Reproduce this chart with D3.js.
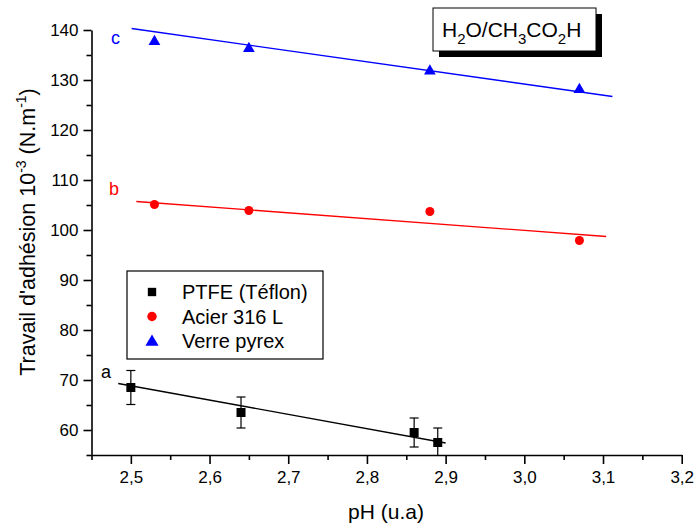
<!DOCTYPE html>
<html>
<head>
<meta charset="utf-8">
<script src="https://cdn.jsdelivr.net/npm/d3@7"></script>
<style>
  body { margin: 0; background: #fff; }
  svg { font-family: "Liberation Sans", Arial, sans-serif; }
</style>
</head>
<body>
<div id="chart"></div>
<script>
// data
const phPTFE = [2.50, 2.64, 2.86, 2.89]
const wPTFE = [68.5, 63.5, 59.5, 57.5]
const errPTFE = [3.4, 3.1, 2.9, 2.9]
const fitPTFEx = [2.484, 2.90]
const fitPTFEy = [69.3, 57.4]

const phAcier = [2.53, 2.65, 2.88, 3.07]
const wAcier = [105.1, 103.9, 103.7, 97.9]
const fitAcierx = [2.507, 3.104]
const fitAciery = [105.7, 98.7]

const phPyrex = [2.53, 2.65, 2.88, 3.07]
const wPyrex = [137.9, 136.5, 132.0, 128.3]
const fitPyrexx = [2.501, 3.112]
const fitPyrexy = [140.3, 126.7]

const xMajor = [2.5, 2.6, 2.7, 2.8, 2.9, 3.0, 3.1, 3.2]
const xMinor = [2.45, 2.55, 2.65, 2.75, 2.85, 2.95, 3.05, 3.15]
const yMajor = [60, 70, 80, 90, 100, 110, 120, 130, 140]
const yMinor = [55, 65, 75, 85, 95, 105, 115, 125, 135]

const legendNames = ['PTFE (Téflon)', 'Acier 316 L', 'Verre pyrex']
const legendColors = ['#000', '#ff0000', '#0000ff']
const legendShapes = [d3.symbolSquare, d3.symbolCircle, d3.symbolTriangle]

const width = 696, height = 524
const svg = d3.select('#chart').append('svg')
   .attr('width', width).attr('height', height)

const x = d3.scaleLinear().domain([2.45, 3.2]).range([91.5, 681.7])
const y = d3.scaleLinear().domain([55, 140]).range([455, 30])

const fmt = d => d.toFixed(1).replace('.', ',')

// axes
const gx = svg.append('g').attr('transform', `translate(0,${y(55)})`)
gx.call(d3.axisBottom(x).tickValues(xMajor).tickFormat(fmt).tickSize(9).tickSizeOuter(0).tickPadding(7))
gx.append('g').call(d3.axisBottom(x).tickValues(xMinor).tickFormat('').tickSize(5).tickSizeOuter(0))
   .select('.domain').remove()

const gy = svg.append('g').attr('transform', `translate(${x(2.45)},0)`)
gy.call(d3.axisLeft(y).tickValues(yMajor).tickSize(8).tickSizeOuter(0).tickPadding(5))
gy.append('g').call(d3.axisLeft(y).tickValues(yMinor).tickFormat('').tickSize(5).tickSizeOuter(0))
   .select('.domain').remove()

svg.selectAll('.domain, .tick line').attr('stroke', '#000').attr('stroke-width', 1.6)
svg.selectAll('.tick text').attr('font-size', 17).attr('fill', '#000')
   .attr('font-family', '"Liberation Sans", Arial, sans-serif')

// axis titles
svg.append('text')
   .attr('x', 386).attr('y', 519)
   .attr('text-anchor', 'middle').attr('font-size', 21)
   .text('pH (u.a)')

const yt = svg.append('text')
   .attr('transform', 'translate(35,232) rotate(-90)')
   .attr('text-anchor', 'middle').attr('font-size', 21.5)
yt.append('tspan').text("Travail d'adhésion 10")
yt.append('tspan').attr('font-size', 14).attr('dy', -9).text('-3')
yt.append('tspan').attr('dy', 9).text(' (N.m')
yt.append('tspan').attr('font-size', 14).attr('dy', -9).text('-1')
yt.append('tspan').attr('dy', 9).text(')')

// fit lines
const line = d3.line().x(d => x(d[0])).y(d => y(d[1]))
const fits = [
   [d3.zip(fitPTFEx, fitPTFEy), '#000'],
   [d3.zip(fitAcierx, fitAciery), '#ff0000'],
   [d3.zip(fitPyrexx, fitPyrexy), '#0000ff'],
]
fits.forEach(([pts, c]) => {
   svg.append('path').attr('d', line(pts))
      .attr('fill', 'none').attr('stroke', c).attr('stroke-width', 1.3)
})

// error bars PTFE (clipped at the x axis)
const eb = svg.append('g').attr('stroke', '#000').attr('stroke-width', 1.2)
phPTFE.forEach((p, i) => {
   const top = y(wPTFE[i] + errPTFE[i])
   const bot = Math.min(y(wPTFE[i] - errPTFE[i]), y(55))
   eb.append('line').attr('x1', x(p)).attr('x2', x(p)).attr('y1', top).attr('y2', bot)
   eb.append('line').attr('x1', x(p) - 4.5).attr('x2', x(p) + 4.5).attr('y1', top).attr('y2', top)
   if (wPTFE[i] - errPTFE[i] >= 55) {
      eb.append('line').attr('x1', x(p) - 4.5).attr('x2', x(p) + 4.5).attr('y1', bot).attr('y2', bot)
   }
})

// markers
svg.append('g').selectAll('rect').data(d3.zip(phPTFE, wPTFE)).join('rect')
   .attr('x', d => x(d[0]) - 4.5).attr('y', d => y(d[1]) - 4.5)
   .attr('width', 9).attr('height', 9).attr('fill', '#000')

svg.append('g').selectAll('circle').data(d3.zip(phAcier, wAcier)).join('circle')
   .attr('cx', d => x(d[0])).attr('cy', d => y(d[1])).attr('r', 4.5).attr('fill', '#ff0000')

const tri = d3.symbol().type(d3.symbolTriangle).size(60)
svg.append('g').selectAll('path').data(d3.zip(phPyrex, wPyrex)).join('path')
   .attr('d', tri)
   .attr('transform', d => `translate(${x(d[0])},${y(d[1]) + 1})`)
   .attr('fill', '#0000ff')

// curve letters
svg.append('text').attr('x', 111).attr('y', 44).attr('font-size', 18).attr('fill', '#0000ff').text('c')
svg.append('text').attr('x', 109).attr('y', 195).attr('font-size', 18).attr('fill', '#ff0000').text('b')
svg.append('text').attr('x', 101).attr('y', 378).attr('font-size', 18).attr('fill', '#000').text('a')

// legend
const lg = svg.append('g').attr('transform', 'translate(127,271)')
lg.append('rect').attr('width', 196).attr('height', 88)
   .attr('fill', '#fff').attr('stroke', '#000').attr('stroke-width', 1.2)
legendNames.forEach((n, i) => {
   const cy = 21 + i * 24.5
   lg.append('path')
      .attr('d', d3.symbol().type(legendShapes[i]).size(i === 2 ? 75 : 70)())
      .attr('transform', `translate(25,${cy + (i === 2 ? 1 : 0)})`)
      .attr('fill', legendColors[i])
   lg.append('text').attr('x', 55).attr('y', cy + 7)
      .attr('font-size', 20).text(n)
})

// title box with shadow
const tb = svg.append('g').attr('transform', 'translate(433,8)')
tb.append('rect').attr('x', 6).attr('y', 6).attr('width', 163).attr('height', 43).attr('fill', '#000')
tb.append('rect').attr('width', 163).attr('height', 43)
   .attr('fill', '#fff').attr('stroke', '#000').attr('stroke-width', 1)
const tt = tb.append('text').attr('x', 9).attr('y', 29).attr('font-size', 21)
const parts = [['H', 0], ['2', 1], ['O/CH', 0], ['3', 1], ['CO', 0], ['2', 1], ['H', 0]]
let prev = 0
parts.forEach(([s, sub]) => {
   tt.append('tspan').attr('dy', sub ? 7 : (prev ? -7 : 0))
      .attr('font-size', sub ? 15 : 21).text(s)
   prev = sub
})
</script>
</body>
</html>
